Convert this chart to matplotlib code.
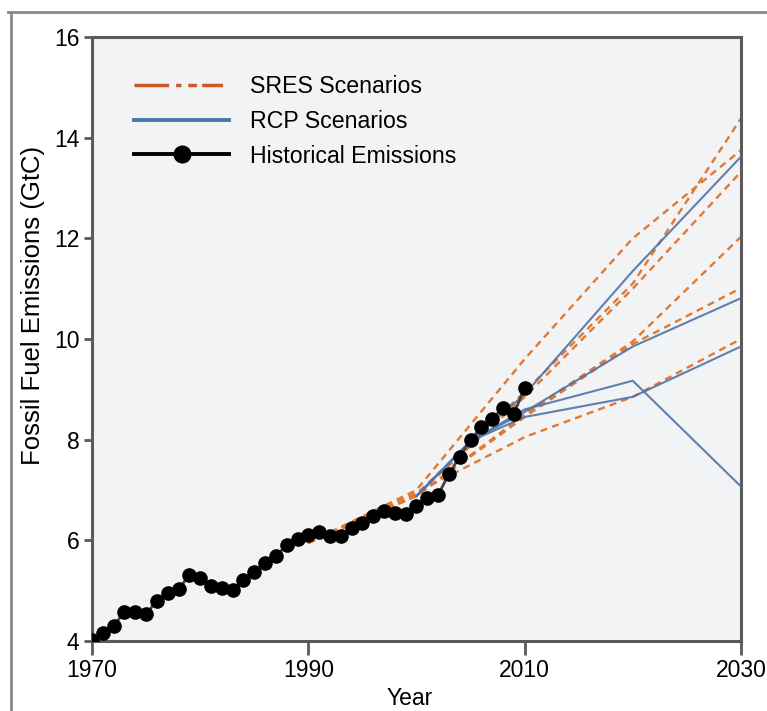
import numpy as np
import matplotlib.pyplot as plt
from matplotlib.lines import Line2D

plt.rcParams['font.family'] = ['Liberation Sans', 'DejaVu Sans']

# Historical fossil fuel emissions (GtC), 1970-2010
hist_years = list(range(1970, 2011))
hist_vals = [4.02, 4.16, 4.30, 4.58, 4.58, 4.54, 4.80, 4.95, 5.03, 5.31,
             5.25, 5.09, 5.05, 5.01, 5.21, 5.37, 5.55, 5.68, 5.91, 6.03,
             6.11, 6.17, 6.09, 6.09, 6.25, 6.35, 6.48, 6.58, 6.54, 6.52,
             6.68, 6.84, 6.90, 7.32, 7.66, 7.99, 8.25, 8.41, 8.63, 8.51,
             9.03]

# SRES scenarios
sres_years = [1990, 2000, 2010, 2020, 2030]
sres_1 = [5.95, 7.00, 9.60, 12.00, 13.75]
sres_2 = [5.95, 6.92, 8.95, 11.10, 14.38]
sres_3 = [5.95, 6.90, 8.85, 11.00, 13.32]
sres_4 = [5.95, 6.88, 8.50, 9.95, 12.03]
sres_5 = [5.95, 6.88, 8.45, 9.90, 11.01]
sres_6 = [5.95, 6.95, 8.05, 8.85, 10.00]

# RCP scenarios
rcp_years = [2000, 2005, 2010, 2020, 2030]
rcp85 = [6.88, 7.97, 8.90, 11.35, 13.62]
rcp45 = [6.88, 7.97, 8.55, 9.85, 10.81]
rcp60 = [6.88, 7.97, 8.45, 8.85, 9.85]
rcp26 = [6.88, 7.97, 8.60, 9.17, 7.07]

orange = '#e3782f'
blue = '#4f74a8'

fig = plt.figure(figsize=(7.67, 7.11), dpi=100)
ax = fig.add_axes([0.12, 0.0985, 0.846, 0.8495])
ax.set_facecolor('#f2f3f5')

for s in [sres_1, sres_2, sres_3, sres_4, sres_5, sres_6]:
    ax.plot(sres_years, s, color=orange, lw=1.7, linestyle=(0, (3.0, 2.2)), zorder=2)

for r in [rcp85, rcp45, rcp60, rcp26]:
    ax.plot(rcp_years, r, color=blue, lw=1.5, alpha=0.9, zorder=3)

ax.plot(hist_years, hist_vals, color='#444444', lw=2, marker='o', ms=9.5,
        mfc='black', mec='black', zorder=4)

ax.set_xlim(1970, 2030)
ax.set_ylim(4, 16)
ax.set_xticks([1970, 1990, 2010, 2030])
ax.set_yticks([4, 6, 8, 10, 12, 14, 16])

for sp in ax.spines.values():
    sp.set_color('#5a5a5a')
    sp.set_linewidth(2.2)
ax.tick_params(axis='x', length=10, width=2, color='#5a5a5a', labelsize=16.5, pad=3)
ax.tick_params(axis='y', length=6, width=2, color='#5a5a5a', labelsize=16.5, pad=3)

ax.set_xlabel('Year', fontsize=16.5)
ax.xaxis.set_label_coords(0.49, -0.076)
ax.set_ylabel('Fossil Fuel Emissions (GtC)', fontsize=18.5)
ax.yaxis.set_label_coords(-0.072, 0.555)

handles = [
    Line2D([], [], color='#d0582a', lw=2.5, linestyle=(0, (10, 2, 1.5, 2, 2.5, 1.5, 6, 3))),
    Line2D([], [], color='#4a78ad', lw=2.8),
    Line2D([], [], color='black', lw=2.8, marker='o', ms=12),
]
ax.legend(handles, ['SRES Scenarios', 'RCP Scenarios', 'Historical Emissions'],
          loc='upper left', bbox_to_anchor=(0.033, 0.971), frameon=False,
          fontsize=16.7, handlelength=4.1, handletextpad=0.9, labelspacing=0.5)

# outer frame
fig.add_artist(Line2D([0.011, 1.0], [0.983, 0.983], color='#8a8a8a', lw=2))
fig.add_artist(Line2D([0.014, 0.014], [0.0, 0.983], color='#8a8a8a', lw=2))

fig.savefig('out.png', dpi=100)
